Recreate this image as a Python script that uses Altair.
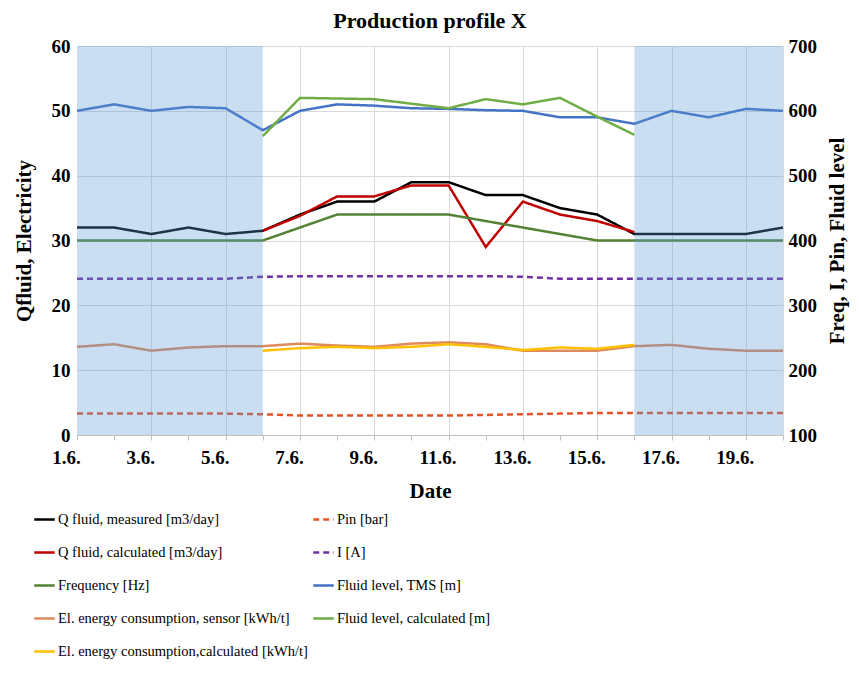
import altair as alt
import pandas as pd

# ---- data ----
days = list(range(1, 21))            # 1.6. ... 20.6.
mid_days = list(range(6, 17))        # 6.6. ... 16.6.

q_measured = [32, 32, 31, 32, 31, 31.5, 34, 36, 36, 39, 39, 37, 37, 35, 34, 31, 31, 31, 31, 32]
q_calculated = [31.5, 33.8, 36.8, 36.8, 38.5, 38.5, 29, 36, 34, 33, 31.3]
frequency = [30, 30, 30, 30, 30, 30, 32, 34, 34, 34, 34, 33, 32, 31, 30, 30, 30, 30, 30, 30]
el_sensor = [13.6, 14.0, 13.0, 13.5, 13.7, 13.7, 14.1, 13.8, 13.6, 14.1, 14.3, 14.0, 13.0, 13.0, 13.0, 13.7, 13.9, 13.3, 13.0, 13.0]
el_calculated = [13.0, 13.4, 13.6, 13.4, 13.6, 14.0, 13.6, 13.1, 13.5, 13.3, 13.9]
pin = [3.3, 3.3, 3.3, 3.3, 3.3, 3.2, 3.0, 3.0, 3.0, 3.0, 3.0, 3.1, 3.2, 3.3, 3.4, 3.4, 3.4, 3.4, 3.4, 3.4]
current = [24.1, 24.1, 24.1, 24.1, 24.1, 24.4, 24.5, 24.5, 24.5, 24.5, 24.5, 24.5, 24.4, 24.1, 24.1, 24.1, 24.1, 24.1, 24.1, 24.1]
level_tms = [600, 610, 600, 606, 604, 570, 600, 610, 608, 604, 603, 601, 600, 590, 590, 580, 600, 590, 603, 600]
level_calculated = [561, 620, 619, 618, 611, 604, 618, 610, 620, 591, 563]

shade_start = [1, 16]
shade_end = [6, 20]

left_ticks = [0, 10, 20, 30, 40, 50, 60]
right_ticks = [100, 200, 300, 400, 500, 600, 700]

# legend order (filled column by column)
names = [
    "Q fluid, measured [m3/day]",
    "Q fluid, calculated [m3/day]",
    "Frequency [Hz]",
    "El. energy consumption, sensor  [kWh/t]",
    "El. energy consumption,calculated [kWh/t]",
    "Pin [bar]",
    "I [A]",
    "Fluid level, TMS [m]",
    "Fluid level, calculated [m]",
]
colors = ["#000000", "#c00000", "#548235", "#df8a5c", "#ffc000",
          "#e5522a", "#7030a0", "#4472c4", "#70ad47"]
dashes = [[1, 0], [1, 0], [1, 0], [1, 0], [1, 0], [6, 4], [6, 4], [1, 0], [1, 0]]

left_series = [
    (names[0], days, q_measured),
    (names[1], mid_days, q_calculated),
    (names[2], days, frequency),
    (names[3], days, el_sensor),
    (names[4], mid_days, el_calculated),
    (names[5], days, pin),
    (names[6], days, current),
]
right_series = [
    (names[7], days, level_tms),
    (names[8], mid_days, level_calculated),
]


def long(series):
    rows = []
    for k, (n, d, v) in enumerate(series):
        for dd, vv in zip(d, v):
            rows.append({"series": n, "day": dd, "value": vv, "k": k})
    return pd.DataFrame(rows)


df_left = long(left_series)
df_right = long(right_series)
df_shade = pd.DataFrame({"day": shade_start, "day2": shade_end,
                         "value": [700] * len(shade_start),
                         "value2": [100] * len(shade_start)})

SERIF = "Liberation Serif"
GRID = "#d9d9d9"

x_enc = alt.X(
    "day:Q",
    scale=alt.Scale(domain=[1, 20], nice=False, zero=False),
    axis=alt.Axis(
        values=days,
        labelExpr="datum.value % 2 == 1 ? datum.value + '.6.' : ''",
        title="Date",
        grid=True,
        gridColor=GRID,
        gridOpacity={"condition": {"test": "datum.value % 2 == 1 && datum.value > 1", "value": 1}, "value": 0},
        domainColor="#bfbfbf",
        tickColor="#bfbfbf",
        tickSize=5,
        labelOffset=-11,
        labelFlush=False,
        labelOverlap=False,
        labelPadding=8,
        titlePadding=13,
        labelFontSize=19,
        titleFontSize=21,
    ),
)

color_enc = alt.Color(
    "series:N",
    scale=alt.Scale(domain=names, range=colors),
    legend=alt.Legend(
        orient="none", legendX=-44, legendY=462, columns=2, direction="vertical",
        title=None, symbolType="stroke", symbolSize=420,
        symbolStrokeWidth=2.5, labelFont=SERIF, labelFontSize=14.5,
        labelFontWeight="normal", labelColor="#000000",
        rowPadding=15, columnPadding=0, labelOffset=2, labelLimit=0,
    ),
)
dash_enc = alt.StrokeDash("series:N", scale=alt.Scale(domain=names, range=dashes), legend=None)

left_y = alt.Y(
    "value:Q",
    scale=alt.Scale(domain=[0, 60], nice=False),
    axis=alt.Axis(orient="left", values=left_ticks, title="Qfluid, Electricity",
                  gridColor=GRID, domain=False, ticks=False, labelPadding=7,
                  titlePadding=17, labelFontSize=19, titleFontSize=21),
)
right_y = alt.Y(
    "value:Q",
    scale=alt.Scale(domain=[100, 700], nice=False, zero=False),
    axis=alt.Axis(orient="right", values=right_ticks, title="Freq, I, Pin, Fluid level",
                  grid=False, domainColor=GRID, ticks=False, labelPadding=5,
                  titlePadding=31, titleAngle=270, labelFontSize=19, titleFontSize=21),
)

left_lines = alt.Chart(df_left).mark_line(strokeWidth=2.5).encode(
    x=x_enc, y=left_y, color=color_enc, strokeDash=dash_enc, detail="k:N"
)
right_lines = alt.Chart(df_right).mark_line(strokeWidth=2.5).encode(
    x=x_enc, y=right_y, color=color_enc, strokeDash=dash_enc, detail="k:N"
)
shade = alt.Chart(df_shade).mark_rect(color="#5b9bd5", opacity=0.33).encode(
    x=x_enc, x2="day2:Q", y=right_y, y2="value2:Q"
)

right = alt.layer(right_lines, shade)

chart = (
    alt.layer(left_lines, right)
    .resolve_scale(y="independent")
    .properties(
        width=706, height=389,
        title=alt.TitleParams("Production profile X", fontSize=22, font=SERIF,
                              fontWeight="bold", offset=4, frame="group",
                              color="#000000"),
        autosize=alt.AutoSizeParams(type="none"),
        padding={"left": 69, "top": 38, "right": 68, "bottom": 228},
    )
    .configure_axis(labelFont=SERIF, titleFont=SERIF, labelFontWeight="bold",
                    titleFontWeight="bold", labelColor="#000000", titleColor="#000000")
    .configure_legend(labelFont=SERIF, labelFontSize=14.5)
    .configure_view(stroke=None)
)

chart.save("out.html", embed_options={"renderer": "svg", "actions": False})
